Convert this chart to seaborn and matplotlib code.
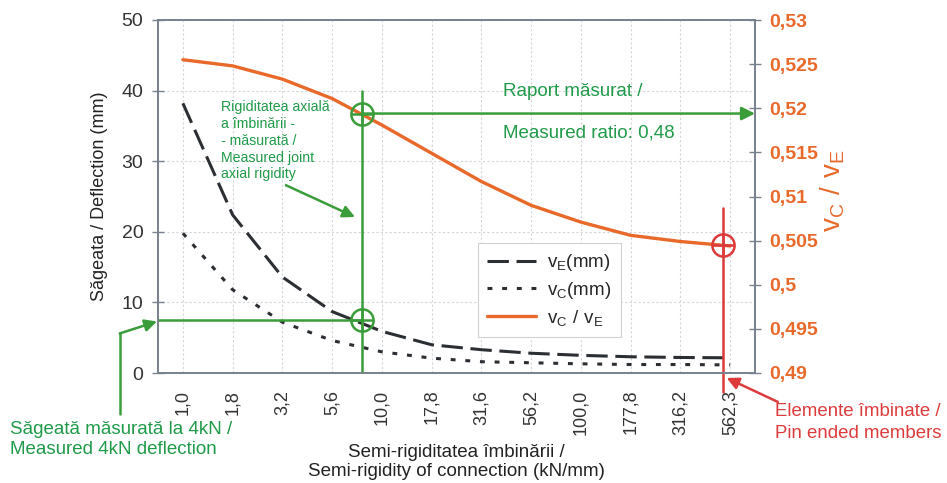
import numpy as np
import pandas as pd
import matplotlib
matplotlib.use('Agg')
import matplotlib.pyplot as plt
import seaborn as sns

# values
rigidity_labels = ['1,0', '1,8', '3,2', '5,6', '10,0', '17,8', '31,6', '56,2',
                   '100,0', '177,8', '316,2', '562,3']
v_E = [38.2, 22.4, 13.6, 8.7, 5.9, 4.0, 3.3, 2.8, 2.5, 2.3, 2.2, 2.15]
v_C = [19.8, 11.8, 7.2, 4.6, 3.0, 2.1, 1.6, 1.45, 1.3, 1.2, 1.2, 1.15]
ratio = [0.5255, 0.5248, 0.5233, 0.5211, 0.5181, 0.5149, 0.5117, 0.5090,
         0.5071, 0.5056, 0.5049, 0.5044]

left_ticks = [0, 10, 20, 30, 40, 50]
ratio_ticks = [0.49, 0.495, 0.5, 0.505, 0.51, 0.515, 0.52, 0.525, 0.53]
ratio_tick_labels = ['0,49', '0,495', '0,5', '0,505', '0,51', '0,515', '0,52', '0,525', '0,53']

# annotation values
meas_pos = 3.6          # measured joint rigidity, between 5,6 and 10,0
meas_deflection = 7.5
meas_ratio = 0.5194
pin_pos = 10.85
pin_ratio = 0.5045

sns.set_style('white')
plt.rcParams['font.family'] = ['Liberation Sans', 'DejaVu Sans']

green = '#3a9d3a'
green_txt = '#1f9a48'
red = '#dd3b3b'
orange = '#e8692a'
spine_c = '#76818d'
grid_c = '#d2d6da'
dark = '#2b2f33'

df = pd.DataFrame({'pos': np.arange(len(rigidity_labels)), 'v_E': v_E, 'v_C': v_C, 'ratio': ratio})

fig = plt.figure(figsize=(9.47, 4.83), dpi=100)
ax = fig.add_axes([158 / 947, 1 - 373 / 483, 597 / 947, 353 / 483])
ax2 = ax.twinx()

sns.lineplot(data=df, x='pos', y='v_E', ax=ax, color=dark, lw=2.2,
             linestyle=(0, (7, 2.5)), legend=False)
line_e = ax.lines[-1]
sns.lineplot(data=df, x='pos', y='v_C', ax=ax, color=dark, lw=2.2,
             linestyle=(0, (1.6, 3.2)), legend=False)
line_c = ax.lines[-1]
sns.lineplot(data=df, x='pos', y='ratio', ax=ax2, color=orange, lw=2.4, legend=False)
line_r = ax2.lines[-1]

# axes
ax.set_xlim(-0.5, len(rigidity_labels) - 0.5)
ax.set_ylim(0, 50)
ax2.set_ylim(0.49, 0.53)
ax.set_xticks(df['pos'])
ax.set_xticklabels(rigidity_labels, rotation=90)
ax.set_xticks(np.arange(-0.5, len(rigidity_labels)), minor=True)
ax.set_yticks(left_ticks)
ax2.set_yticks(ratio_ticks)
ax2.set_yticklabels(ratio_tick_labels)

ax.grid(True, which='major', color=grid_c, linestyle=(0, (2, 2)), lw=0.8)
ax.tick_params(axis='x', which='major', length=0, pad=12, labelsize=13, labelcolor='#333333')
ax.tick_params(axis='x', which='minor', direction='inout', length=11, width=1, color=spine_c)
ax.tick_params(axis='y', direction='inout', length=9, width=1, color=spine_c, pad=6,
               labelsize=14, labelcolor='#333333')
ax2.tick_params(axis='y', direction='inout', length=9, width=1, color=spine_c, pad=6,
                labelsize=14, labelcolor=orange)
for t in ax2.get_yticklabels():
    t.set_fontweight('bold')
for a in (ax, ax2):
    for s in a.spines.values():
        s.set_color(spine_c)
        s.set_linewidth(1.2)

ax.set_xlabel('Semi-rigiditatea îmbinării /\nSemi-rigidity of connection (kN/mm)',
              fontsize=13.5, color='#222222', linespacing=1.15)
ax.xaxis.set_label_coords(0.5, -0.2)
ax.set_ylabel('Săgeata / Deflection (mm)', fontsize=13, color='#222222')
ax.yaxis.set_label_coords(-0.084, 0.5)
ax2.set_ylabel(r'$\mathregular{v_C\ /\ v_E}$', fontsize=20, color=orange)
ax2.yaxis.set_label_coords(1.106, 0.518)

# legend
leg = ax2.legend([line_e, line_c, line_r],
                 [r'$\mathregular{v_E}$(mm)', r'$\mathregular{v_C}$(mm)', r'$\mathregular{v_C\ /\ v_E}$'],
                 loc='upper left', bbox_to_anchor=(0.536, 0.368), borderaxespad=0,
                 fontsize=13.5, frameon=True, fancybox=False, framealpha=1, edgecolor='#d0d0d0',
                 handlelength=2.6, handletextpad=0.6, labelspacing=0.35, borderpad=0.5)
leg.get_frame().set_linewidth(0.8)

# measured joint rigidity annotations
ax.plot([meas_pos, meas_pos], [0, 40], color=green, lw=1.8)
ax.plot([-0.5, meas_pos], [meas_deflection, meas_deflection], color=green, lw=1.8)
for mk in ('o', '+'):
    ax.plot(meas_pos, meas_deflection, marker=mk, ms=16, mfc='none', mec=green, mew=1.8)
    ax2.plot(meas_pos, meas_ratio, marker=mk, ms=16, mfc='none', mec=green, mew=1.8)
ax2.annotate('', xy=(len(rigidity_labels) - 0.5, meas_ratio), xytext=(meas_pos, meas_ratio),
             arrowprops=dict(arrowstyle='-|>', color=green, lw=1.8, mutation_scale=20,
                             shrinkA=0, shrinkB=0))
ax.text(0.76, 38.6, 'Rigiditatea axială\na îmbinării -\n- măsurată /\nMeasured joint\naxial rigidity',
        fontsize=10.2, color=green_txt, va='top', linespacing=1.25)
ax.annotate('', xy=(3.46, 22.1), xytext=(2.07, 26.6),
            arrowprops=dict(arrowstyle='-|>', color=green, lw=1.8, mutation_scale=18,
                            shrinkA=0, shrinkB=0))
ax.text(6.43, 39.9, 'Raport măsurat /', fontsize=13.5, color=green_txt, va='center')
ax.text(6.43, 34.0, 'Measured ratio: 0,48', fontsize=13.5, color=green_txt, va='center')

# measured deflection arrow from below the axis
ax.plot([-1.27, -1.27], [-5.8, 5.6], color=green, lw=1.8, clip_on=False)
ax.annotate('', xy=(-0.52, 7.3), xytext=(-1.27, 5.6), annotation_clip=False,
            arrowprops=dict(arrowstyle='-|>', color=green, lw=1.8, mutation_scale=18,
                            shrinkA=0, shrinkB=0))
fig.text(10 / 947, 1 - 421 / 483, 'Săgeată măsurată la 4kN /\nMeasured 4kN deflection',
         fontsize=13.5, color=green_txt, va='top', linespacing=1.25)

# pin ended members
ax.plot([pin_pos, pin_pos], [23.4, -2.7], color=red, lw=1.8, clip_on=False)
for mk in ('o', '+'):
    ax2.plot(pin_pos, pin_ratio, marker=mk, ms=16, mfc='none', mec=red, mew=1.8)
ax.annotate('', xy=(10.93, -0.7), xytext=(11.96, -4.1), annotation_clip=False,
            arrowprops=dict(arrowstyle='-|>', color=red, lw=1.8, mutation_scale=18,
                            shrinkA=0, shrinkB=0))
ax.text(11.9, -4.3, 'Elemente îmbinate /\nPin ended members', fontsize=13.4, color=red,
        va='top', linespacing=1.35, clip_on=False)

fig.savefig('out.png', dpi=100)
